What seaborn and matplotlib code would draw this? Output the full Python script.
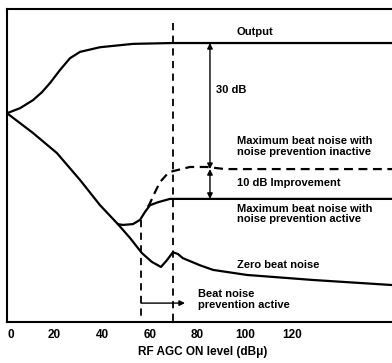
import matplotlib
matplotlib.use("Agg")
import matplotlib.pyplot as plt
import matplotlib.transforms as mtransforms
import seaborn as sns

# x: RF AGC ON level (dBu), y: relative level (dB, output plateau = 0)
output_x = [0, 5.5, 10.9, 14.7, 18.1, 22.3, 26.5, 30.7, 39.1, 52.9, 69.3, 161.8]
output_y = [-16.7, -15.5, -13.6, -11.7, -9.5, -6.4, -3.6, -2.1, -1.0, -0.2, 0, 0]

zero_x = [0, 10.9, 21.0, 30.7, 39.1, 46.6, 51.7, 56.7, 60.9, 64.7, 67.2, 69.7,
          71.8, 73.9, 81.1, 86.6, 100.8, 128.6, 161.8]
zero_y = [-16.7, -21.4, -26.2, -32.6, -38.6, -43.1, -46.4, -50.0, -52.1, -53.3,
          -51.7, -49.8, -50.2, -51.2, -52.9, -54.0, -55.2, -56.4, -57.6]

active_x = [46.6, 48.7, 52.9, 55.9, 58.0, 60.1, 63.4, 68.5, 161.8]
active_y = [-43.1, -43.3, -43.1, -42.1, -40.2, -38.6, -37.9, -37.1, -37.1]

inactive_x = [59.2, 60.1, 62.2, 64.3, 67.6, 69.7, 76.9, 84.0, 91.6, 161.8]
inactive_y = [-39.0, -38.1, -35.5, -33.1, -31.0, -30.5, -29.5, -29.5, -30.0, -30.0]

prevention_on = 56.3   # beat noise prevention starts
agc_on = 69.7          # AGC ON point

x_ticks = [0, 20, 40, 60, 80, 100, 120]

FONT = "Liberation Sans"
FS = 8.0

sns.set_style("white")
plt.rcParams["font.family"] = [FONT, "DejaVu Sans"]
plt.rcParams["text.color"] = "black"
plt.rcParams["xtick.color"] = "black"
plt.rcParams["axes.labelcolor"] = "black"

fig = plt.figure(figsize=(3.92, 3.63), dpi=100)
ax = fig.add_axes([7 / 392, 1 - 322 / 363, 385 / 392, 313 / 363])

lw = 1.6
sns.lineplot(x=output_x, y=output_y, ax=ax, color="black", lw=lw, sort=False)
sns.lineplot(x=zero_x, y=zero_y, ax=ax, color="black", lw=lw, sort=False)
sns.lineplot(x=active_x, y=active_y, ax=ax, color="black", lw=lw, sort=False)
sns.lineplot(x=inactive_x, y=inactive_y, ax=ax, color="black", lw=lw,
             sort=False, linestyle=(0, (4, 2.5)))

# vertical dashed markers
ax.plot([prevention_on, prevention_on], [-42.1, -66.4], color="black", lw=1.3,
        linestyle=(0, (4, 3)))
ax.plot([agc_on, agc_on], [4.8, -66.4], color="black", lw=1.3,
        linestyle=(0, (4, 3)))

# level difference arrows
arrow_x = 85.3
aprops = dict(arrowstyle="<|-|>", color="black", lw=1.0,
              mutation_scale=8, shrinkA=0, shrinkB=0)
ax.annotate("", xy=(arrow_x, 0), xytext=(arrow_x, inactive_y[-1]),
            arrowprops=aprops)
ax.annotate("", xy=(arrow_x, inactive_y[-1]), xytext=(arrow_x, active_y[-1]),
            arrowprops=aprops)

# beat noise prevention active range arrow
ax.annotate("", xy=(74.8, -61.9), xytext=(prevention_on, -61.9),
            arrowprops=dict(arrowstyle="-|>", color="black", lw=1.0,
                            mutation_scale=8, shrinkA=0, shrinkB=0))

tkw = dict(fontsize=FS, fontweight="bold", va="center", ha="left", color="black")
ax.text(96.6, 2.6, "Output", **tkw)
ax.text(87.8, -11.2, "30 dB", **tkw)
ax.text(96.6, -24.6, "Maximum beat noise with\nnoise prevention inactive",
        linespacing=1.05, **tkw)
ax.text(96.6, -33.3, "10 dB Improvement", **tkw)
ax.text(96.6, -40.7, "Maximum beat noise with\nnoise prevention active",
        linespacing=1.05, **tkw)
ax.text(96.6, -52.9, "Zero beat noise", **tkw)
ax.text(80.3, -61.0, "Beat noise\nprevention active", linespacing=1.05, **tkw)

ax.set_xlim(0, 161.8)
ax.set_ylim(-66.4, 8.1)
ax.set_xticks(x_ticks)
ax.set_xticklabels([str(t) for t in x_ticks], fontsize=8.5, fontweight="bold",
                   color="black")
ax.set_yticks([])
ax.tick_params(axis="x", length=0, pad=5)
# the "0" label sits a little right of the axis corner in the original
zero_lbl = ax.get_xticklabels()[0]
zero_lbl.set_transform(zero_lbl.get_transform() +
                       mtransforms.ScaledTranslation(4 / 100, 0, fig.dpi_scale_trans))
ax.set_xlabel("")
for side in ["left", "top", "bottom"]:
    ax.spines[side].set_color("black")
    ax.spines[side].set_linewidth(1.5)
ax.spines["right"].set_visible(False)

fig.text(203 / 392, 1 - 352 / 363, "RF AGC ON level (dB\u03bc)", fontsize=8.5,
         fontweight="bold", ha="center", va="center", color="black")

fig.savefig("out.png", dpi=100)
